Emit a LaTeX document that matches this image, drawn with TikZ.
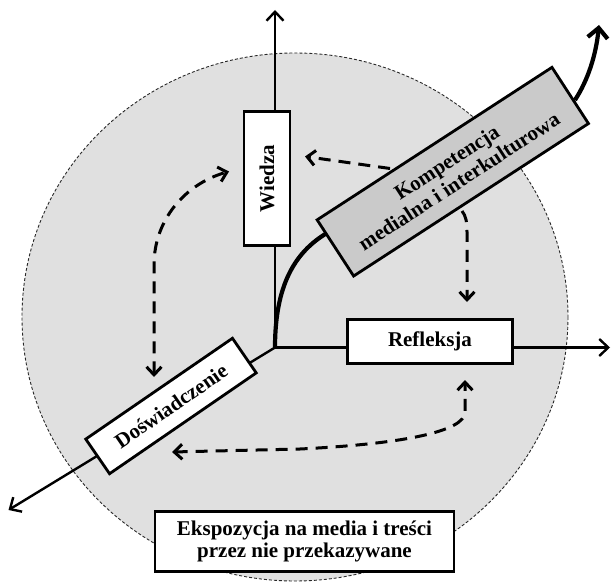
\documentclass[tikz,border=0pt]{standalone}
\usepackage{fontspec}
\setmainfont{Liberation Serif}
\usetikzlibrary{arrows.meta}
\definecolor{circfill}{RGB}{224,224,224}
\definecolor{kfill}{RGB}{202,202,202}
\definecolor{circline}{RGB}{40,40,40}
\tikzset{
  boxnode/.style={draw=black, line width=2.8pt, fill=white, inner sep=0pt,
    font=\fontsize{21}{22.5}\selectfont\bfseries, align=center},
  axisline/.style={line width=2.4pt, -{Straight Barb[length=9pt,width=17pt]}},
  curveline/.style={line width=4.2pt, -{Straight Barb[length=10pt,width=20pt]}},
  dasharrow/.style={line width=3pt, dash pattern=on 12pt off 8pt,
    {Straight Barb[length=8pt,width=15pt]}-{Straight Barb[length=8pt,width=15pt]}},
  dasharrowone/.style={line width=3pt, dash pattern=on 12pt off 8pt,
    -{Straight Barb[length=8pt,width=15pt]}},
}
\begin{document}
\begin{tikzpicture}[x=1pt,y=-1pt]
\useasboundingbox (0,0) rectangle (611,583);
% background circle
\begin{scope}
\clip (0,0) rectangle (611,583);
\draw[fill=circfill, draw=circline, line width=0.9pt, dash pattern=on 3pt off 2pt]
  (295,317) ellipse [x radius=273, y radius=264];
\end{scope}
% coordinates
\coordinate (O) at (275,347.5);
\coordinate (up) at (275,10);
\coordinate (right) at (610,347.5);
\coordinate (dl) at (8.5,510);
\coordinate (kin) at (327,233);
\coordinate (kout) at (575,100);
\coordinate (ktip) at (599,25);
% axes
\draw[axisline] (O) -- (up);
\draw[axisline] (O) -- (right);
\draw[axisline] (O) -- (dl);
% curve
\draw[line width=4.2pt] (O) .. controls (275,285) and (295,252) .. (kin) -- (kout);
\draw[curveline] (kout) .. controls (588,80) and (596,55) .. (ktip);
% boxes
\node[boxnode, minimum width=134pt, minimum height=46pt, rotate=90] (W) at (267,178.5) {Wiedza};
\node[boxnode, minimum width=165pt, minimum height=44pt] (R) at (430,341.3) {Refleksja};
\node[boxnode, minimum width=178pt, minimum height=42pt, rotate=34.5] (D) at (171,406) {Doświadczenie};
\node[boxnode, fill=kfill, minimum width=280pt, minimum height=67pt, rotate=33] (K) at (452.8,171.7) {Kompetencja\\medialna i interkulturowa};
\node[boxnode, minimum width=299pt, minimum height=60pt] (E) at (304.5,541.7) {Ekspozycja na media i treści\\przez nie przekazywane};
% dashed arrows
\coordinate (a1s) at (390,168.5);
\coordinate (a1e) at (305,156.5);
\draw[dasharrowone] (a1s) -- (a1e);
\coordinate (a2s) at (462,211);
\coordinate (a2e) at (467,302);
\draw[dasharrowone] (a2s) .. controls (466,216) and (467,222) .. (467,232) -- (a2e);
\coordinate (a3s) at (154,377);
\coordinate (a3e) at (229,171.5);
\draw[dasharrow] (a3s) -- (154,265) .. controls (154,220) and (185,184) .. (a3e);
\coordinate (a4s) at (172,452);
\coordinate (a4e) at (465,380);
\draw[dasharrow] (a4s) -- (300,449) .. controls (400,444) and (465,432) .. (465,412) -- (a4e);
\end{tikzpicture}
\end{document}
